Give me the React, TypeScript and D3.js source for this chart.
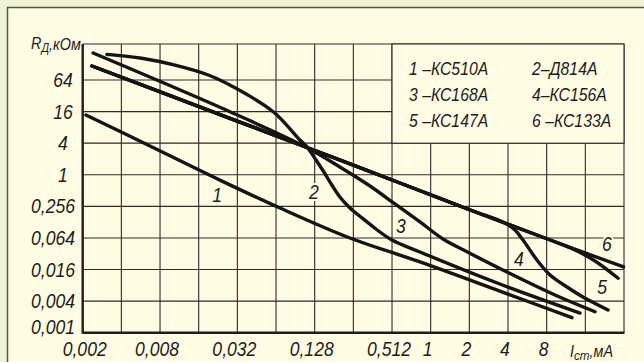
import React, { useEffect, useRef } from 'react';
import * as d3 from 'd3';

// Ток стабилизации I_ст, мА — сетка по оси X (шаг x2)
const X_GRID = [0.002, 0.004, 0.008, 0.016, 0.032, 0.064, 0.128, 0.256, 0.512, 1.024, 2.048, 4.096, 8.192, 16.384, 32.768];
const X_TICKS = [0.002, 0.008, 0.032, 0.128, 0.512, 1.024, 2.048, 4.096, 8.192];
const X_TICK_LABELS = ['0,002', '0,008', '0,032', '0,128', '0,512', '1', '2', '4', '8'];

// Дифференциальное сопротивление R_д, кОм — сетка по оси Y (шаг x4)
const Y_GRID = [0.001, 0.004, 0.016, 0.064, 0.256, 1.024, 4.096, 16.384, 65.536];
const Y_TICK_LABELS = ['0,001', '0,004', '0,016', '0,064', '0,256', '1', '4', '16', '64'];
const Y_TOP = 318;

const LEGEND = ['1 –КС510А', '2–Д814А', '3 –КС168А', '4–КС156А', '5 –КС147А', '6 –КС133А'];

// [I, мА ; R, кОм]
const KS510A: [number, number][] = [
  [0.00212, 14.1], [0.00668, 3.62], [0.0234, 0.81], [0.0687, 0.238], [0.241, 0.0638],
  [0.845, 0.0223], [3.54, 0.0062], [12.9, 0.00193],
];
const D814A: [number, number][] = [
  [0.00308, 202], [0.00576, 170], [0.01046, 126], [0.019, 81.7], [0.0296, 48.8], [0.0609, 16.3],
  [0.0983, 4.7], [0.111, 3.51], [0.131, 1.96], [0.151, 1.155], [0.174, 0.653], [0.201, 0.386],
  [0.241, 0.238], [0.299, 0.154], [0.384, 0.0947], [0.511, 0.0584], [0.845, 0.0345], [3.54, 0.00847],
  [14.9, 0.00237],
];
const KS168A: [number, number][] = [
  [0.00241, 214], [0.028, 16.3], [0.109, 3.46], [0.201, 1.44], [0.345, 0.625], [0.54, 0.284],
  [0.845, 0.129], [1.277, 0.0611], [2.03, 0.0335], [4.17, 0.0137], [9.5, 0.00523], [19.5, 0.00251],
];
const KS156A: [number, number][] = [
  [0.00236, 121], [0.028, 12.2], [0.109, 3.46], [0.59, 0.713], [2.08, 0.218], [3.88, 0.123],
  [4.64, 0.0906], [5.36, 0.0584], [6.88, 0.0243], [8.7, 0.0126], [11.8, 0.00743], [15.7, 0.00479],
  [24.6, 0.00271],
];
const KS147A: [number, number][] = [
  [0.00236, 121], [0.028, 12.2], [0.109, 3.46], [0.59, 0.713], [2.08, 0.218], [8.72, 0.0584],
  [13.6, 0.0377], [19.5, 0.0233], [29.5, 0.0109],
];
const KS133A: [number, number][] = [
  [0.00236, 121], [0.028, 12.2], [0.109, 3.46], [0.59, 0.713], [2.08, 0.218], [8.72, 0.0584],
  [32.5, 0.0179],
];

const CURVE_LABELS = ['1', '2', '3', '4', '5', '6'];
const CURVE_LABEL_I = [0.0223, 0.126, 0.601, 4.98, 22.1, 24.1];
const CURVE_LABEL_R = [0.421, 0.48, 0.108, 0.0254, 0.00743, 0.049];

const FONT = '"Liberation Sans", Arial, sans-serif';
const INK = '#1c1c1c';
const PAPER = '#fffce3';

const App: React.FC = () => {
  const svgRef = useRef<SVGSVGElement>(null);

  useEffect(() => {
    if (!svgRef.current) return;
    document.body.style.margin = '0';

    const width = 644;
    const height = 362;
    const margin = { top: 44, right: 20, bottom: 29.3, left: 82.7 };

    const svg = d3.select(svgRef.current);
    svg.selectAll('*').remove();

    const x = d3.scaleLog()
      .domain([X_GRID[0], X_GRID[X_GRID.length - 1]])
      .range([margin.left, width - margin.right]);
    const y = d3.scaleLog()
      .domain([Y_GRID[0], Y_TOP])
      .range([height - margin.bottom, margin.top]);

    const x0 = x.range()[0], x1 = x.range()[1];
    const y0 = y.range()[0], y1 = y.range()[1];

    // background + panel
    svg.append('rect').attr('width', width).attr('height', height).attr('fill', '#eef3d6');
    svg.append('rect')
      .attr('x', 7.5).attr('y', 7.5)
      .attr('width', width).attr('height', height)
      .attr('fill', PAPER)
      .attr('stroke', '#55554a')
      .attr('stroke-width', 1.5);

    // grid
    const grid = svg.append('g').attr('stroke', '#2a2a2a').attr('stroke-width', 1.1);
    grid.selectAll('.vx')
      .data(X_GRID.slice(1))
      .enter()
      .append('line')
      .attr('x1', d => x(d)).attr('x2', d => x(d))
      .attr('y1', y1).attr('y2', y0);
    grid.selectAll('.hy')
      .data(Y_GRID.slice(1))
      .enter()
      .append('line')
      .attr('x1', x0).attr('x2', x1)
      .attr('y1', d => y(d)).attr('y2', d => y(d));
    grid.append('line').attr('x1', x0).attr('x2', x1).attr('y1', y1).attr('y2', y1);

    // legend box (covers the grid)
    const lx = x(0.512);
    svg.append('rect')
      .attr('x', lx).attr('y', y1)
      .attr('width', x1 - lx).attr('height', y(4.096) - y1)
      .attr('fill', PAPER)
      .attr('stroke', '#2a2a2a')
      .attr('stroke-width', 1.1);

    // axes
    svg.append('line').attr('x1', x0).attr('x2', x0).attr('y1', y1).attr('y2', y0 + 1)
      .attr('stroke', INK).attr('stroke-width', 2.4);
    svg.append('line').attr('x1', x0).attr('x2', x1 + 0.5).attr('y1', y0).attr('y2', y0)
      .attr('stroke', INK).attr('stroke-width', 2.4);

    // curves
    const line = d3.line<[number, number]>()
      .x(d => x(d[0]))
      .y(d => y(d[1]))
      .curve(d3.curveCatmullRom.alpha(0.5));

    const curves = [KS510A, D814A, KS168A, KS156A, KS147A, KS133A];
    svg.append('g')
      .selectAll('path')
      .data(curves)
      .enter()
      .append('path')
      .attr('d', d => line(d) as string)
      .attr('fill', 'none')
      .attr('stroke', '#141414')
      .attr('stroke-width', 3.4)
      .attr('stroke-linecap', 'round')
      .attr('stroke-linejoin', 'round');

    const addText = (
      px: number, py: number, s: string, anchor: string, size: number, sx: number,
    ) => svg.append('text')
      .attr('transform', `translate(${px},${py}) scale(${sx},1)`)
      .attr('text-anchor', anchor)
      .style('font-family', FONT)
      .style('font-style', 'italic')
      .style('font-size', `${size}px`)
      .style('fill', INK)
      .text(s);

    // curve numbers
    CURVE_LABELS.forEach((s, i) => {
      addText(x(CURVE_LABEL_I[i]), y(CURVE_LABEL_R[i]) + 7, s, 'middle', 20, 0.88)
        .style('stroke', PAPER)
        .style('stroke-width', 4)
        .style('paint-order', 'stroke');
    });

    // y tick labels
    Y_GRID.forEach((v, i) => {
      const s = Y_TICK_LABELS[i];
      const py = Math.min(y(v) + 7, 334);
      if (s.length <= 2) addText(63, py, s, 'middle', 20, 0.88);
      else addText(75, py, s, 'end', 20, 0.88);
    });

    // x tick labels
    X_TICKS.forEach((v, i) => {
      addText(x(v) - (i === 0 ? -2 : 3), 356, X_TICK_LABELS[i], 'middle', 20, 0.88);
    });

    // axis titles
    const yt = svg.append('text')
      .attr('transform', 'translate(31,49) scale(0.9,1)')
      .style('font-family', FONT)
      .style('font-style', 'italic')
      .style('font-size', '16px')
      .style('fill', INK);
    yt.append('tspan').text('R');
    yt.append('tspan').attr('dy', 3).style('font-size', '12px').text('Д');
    yt.append('tspan').attr('dy', -2).text(',кОм');

    const xt = svg.append('text')
      .attr('transform', 'translate(570,357) scale(0.9,1)')
      .style('font-family', FONT)
      .style('font-style', 'italic')
      .style('font-size', '16px')
      .style('fill', INK);
    xt.append('tspan').text('I');
    xt.append('tspan').attr('dy', 3).style('font-size', '13px').text('ст');
    xt.append('tspan').attr('dy', -3).text(',мА');

    // legend
    LEGEND.forEach((s, i) => {
      const col = i % 2;
      const row = Math.floor(i / 2);
      addText(col === 0 ? 409 : 532, 75 + row * 25.8, s, 'start', 19, 0.83);
    });
  }, []);

  return <svg ref={svgRef} width={644} height={362} style={{ display: 'block' }} />;
};

export default App;
